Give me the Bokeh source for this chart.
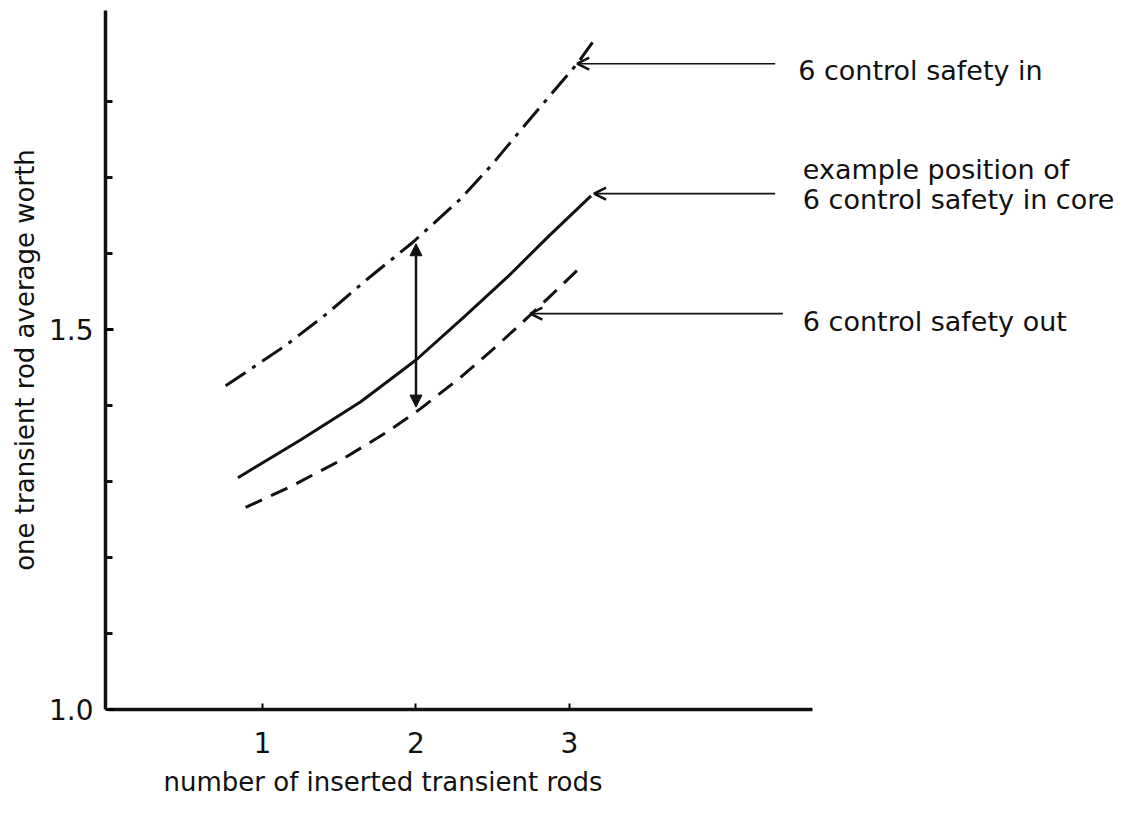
from bokeh.plotting import figure
from bokeh.models import Range1d, FixedTicker, Label, Arrow, NormalHead, OpenHead, Title
from bokeh.embed import file_html
from bokeh.resources import INLINE

# ---- data ----
rods_in = [0.76, 1.15, 1.42, 1.68, 1.98, 2.29, 2.49, 2.68, 2.86, 3.05, 3.15]
worth_in = [1.426, 1.479, 1.521, 1.566, 1.615, 1.672, 1.716, 1.762, 1.805, 1.850, 1.878]

rods_core = [0.84, 1.25, 1.64, 2.00, 2.31, 2.60, 2.86, 3.14]
worth_core = [1.305, 1.355, 1.405, 1.460, 1.516, 1.570, 1.622, 1.676]

rods_out = [0.89, 1.18, 1.51, 1.81, 2.03, 2.29, 2.49, 2.68, 2.88, 3.07]
worth_out = [1.266, 1.293, 1.328, 1.365, 1.396, 1.437, 1.472, 1.507, 1.545, 1.582]

x_ticks = [1, 2, 3]
y_major = [1.0, 1.5]
y_minor = [1.1, 1.2, 1.3, 1.4, 1.6, 1.7, 1.8]
y_labels = {1.0: "1.0", 1.5: "1.5"}

# double arrow at 2 rods: from "out" curve to "in" curve
range_arrow_x = 2.0
range_arrow_y = [1.398, 1.613]

# annotation texts and where their arrows point
notes = ["6 control safety in", "example position of", "6 control safety in core", "6 control safety out"]
note_x = [4.49, 4.52, 4.52, 4.52]
note_y = [1.841, 1.7105, 1.671, 1.511]
pointer_tail_x = [4.34, 4.34, 4.39]
pointer_tip_x = [3.05, 3.16, 2.745]
pointer_y = [1.850, 1.679, 1.521]

x_title = "number of inserted transient rods"
y_title = "one transient rod average worth"

FONT = "DejaVu Sans"
INK = "#111111"

px_per_rod = 153.5
frame_w = 1123 - 105
x0 = -0.0228

p = figure(width=1123, height=819,
           x_range=Range1d(x0, x0 + frame_w / px_per_rod),
           y_range=Range1d(1.0, 1.92),
           output_backend="svg", toolbar_location=None,
           min_border_left=105, min_border_right=0,
           min_border_top=10, min_border_bottom=110)
p.background_fill_color = "white"
p.border_fill_color = "white"
p.outline_line_color = None
p.xgrid.visible = False
p.ygrid.visible = False

# x axis
xa = p.xaxis[0]
xa.ticker = FixedTicker(ticks=x_ticks)
xa.bounds = (0, 4.58)
xa.axis_line_width = 3.5
xa.axis_line_color = INK
xa.major_tick_in = 6
xa.major_tick_out = 0
xa.major_tick_line_width = 2
xa.minor_tick_line_color = None
xa.major_label_standoff = 22
xa.major_label_text_font = FONT
xa.major_label_text_font_size = "28px"
xa.major_label_text_color = INK

# y axis
ya = p.yaxis[0]
ya.ticker = FixedTicker(ticks=y_major, minor_ticks=y_minor)
ya.major_label_overrides = y_labels
ya.bounds = (1.0, 1.92)
ya.axis_line_width = 3.5
ya.axis_line_color = INK
ya.major_tick_in = 8
ya.major_tick_out = 0
ya.major_tick_line_width = 3
ya.minor_tick_in = 7
ya.minor_tick_out = 0
ya.minor_tick_line_width = 3
ya.minor_tick_line_color = INK
ya.major_label_standoff = 12
ya.major_label_text_font = FONT
ya.major_label_text_font_size = "28px"
ya.major_label_text_color = INK
ya.axis_label = y_title
ya.axis_label_text_font = FONT
ya.axis_label_text_font_size = "26px"
ya.axis_label_text_font_style = "normal"
ya.axis_label_text_color = INK
ya.axis_label_standoff = 6

# x axis title, left-aligned under the axis
p.add_layout(Title(text=x_title, align="left", offset=58, standoff=18,
                   text_font=FONT, text_font_size="26px", text_font_style="normal",
                   text_color=INK), "below")

# curves
p.line(rods_in, worth_in, line_color=INK, line_width=3, line_dash="24 8 4 8")
p.line(rods_core, worth_core, line_color=INK, line_width=3)
p.line(rods_out, worth_out, line_color=INK, line_width=3, line_dash="18 10")

# vertical double arrow
p.add_layout(Arrow(x_start=range_arrow_x, y_start=range_arrow_y[0],
                   x_end=range_arrow_x, y_end=range_arrow_y[1],
                   line_color=INK, line_width=2.5,
                   start=NormalHead(size=12, fill_color=INK, line_color=INK),
                   end=NormalHead(size=12, fill_color=INK, line_color=INK)))

# pointer arrows
for tx, hx, yy in zip(pointer_tail_x, pointer_tip_x, pointer_y):
    p.add_layout(Arrow(x_start=tx, y_start=yy, x_end=hx, y_end=yy,
                       line_color=INK, line_width=1.6,
                       end=OpenHead(size=12, line_color=INK, line_width=2.5)))

# annotation texts
for t, xx, yy in zip(notes, note_x, note_y):
    p.add_layout(Label(x=xx, y=yy, text=t, text_font=FONT, text_font_size="27px",
                       text_color=INK, text_baseline="middle", text_align="left"))

open("out.html", "w").write(file_html(p, INLINE))
